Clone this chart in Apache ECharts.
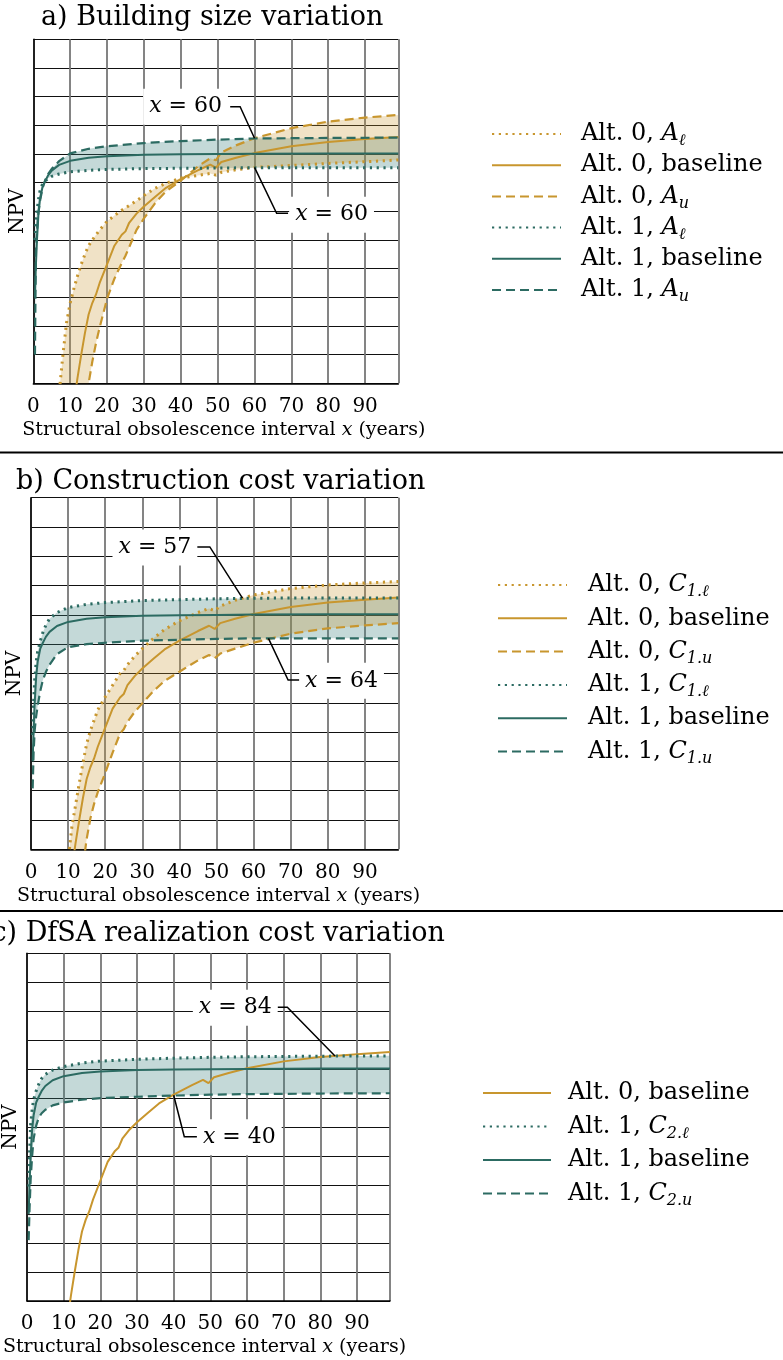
<!DOCTYPE html>
<html>
<head>
<meta charset="utf-8">
<title>NPV vs structural obsolescence interval</title>
<script src="https://cdn.jsdelivr.net/npm/echarts@6.0.0/dist/echarts.min.js"></script>
<style>
  html, body { margin: 0; padding: 0; background: #fff; }
  #main { width: 783px; height: 1360px; }
</style>
</head>
<body>
<div id="main"></div>
<script>
const FONT = 'DejaVu Serif'
const GOLD = '#C8962E'
const TEAL = '#2C6B62'
const GOLD_FILL = 'rgba(200,150,50,0.28)'
const TEAL_FILL = 'rgba(60,130,125,0.3)'

// x tick labels
const xTicks = [0, 10, 20, 30, 40, 50, 60, 70, 80, 90]

// Alt. 1 curves (teal), sampled at xT
const xT = [0.45, 0.7, 1, 1.4, 1.8, 2.5, 3.2, 4, 5, 7, 10, 15, 20, 30, 40, 50, 60, 80, 99]
const alt1Base = [3.0, 4.1, 5.0, 5.9, 6.4, 6.85, 7.05, 7.25, 7.42, 7.62, 7.76, 7.87, 7.92, 7.97, 7.99, 8.0, 8.01, 8.02, 8.02]
const a1Low = [5.0, 5.6, 6.0, 6.4, 6.7, 6.95, 7.05, 7.15, 7.22, 7.3, 7.38, 7.43, 7.46, 7.49, 7.5, 7.51, 7.52, 7.52, 7.52]
const a1Up = [1.0, 4.6, 5.3, 5.95, 6.35, 6.8, 7.08, 7.3, 7.48, 7.75, 8.02, 8.18, 8.27, 8.38, 8.45, 8.5, 8.54, 8.56, 8.57]
const b1Low = [3.9, 5.0, 5.8, 6.4, 6.75, 7.1, 7.4, 7.65, 7.87, 8.08, 8.25, 8.36, 8.42, 8.49, 8.52, 8.55, 8.57, 8.58, 8.58]
const b1Up = [2.08, 3.3, 4.07, 4.55, 4.9, 5.4, 5.78, 6.05, 6.3, 6.66, 6.9, 7.0, 7.05, 7.12, 7.15, 7.18, 7.2, 7.2, 7.2]
const c1Low = [3.95, 5.1, 6.1, 6.6, 6.95, 7.25, 7.48, 7.68, 7.82, 7.97, 8.09, 8.21, 8.28, 8.34, 8.38, 8.41, 8.43, 8.45, 8.46]
const c1Up = [2.1, 3.2, 4.2, 5.0, 5.6, 6.05, 6.33, 6.48, 6.6, 6.75, 6.85, 6.95, 7.0, 7.05, 7.09, 7.12, 7.14, 7.16, 7.17]

// Alt. 0 curves (gold), sampled at xG
const xG = [6, 7, 8, 9, 10, 11, 12, 13, 14, 15, 16, 17, 18, 20, 22, 24, 25, 26, 28, 30, 33, 36, 40, 45, 48, 49.5, 51, 55, 60, 70, 80, 90, 99]
const alt0Base = [-8, -6, -4.5, -3, -1.8, -0.7, 0.2, 1.0, 1.75, 2.4, 2.8, 3.1, 3.5, 4.15, 4.8, 5.18, 5.3, 5.6, 5.92, 6.17, 6.5, 6.82, 7.12, 7.45, 7.63, 7.52, 7.72, 7.87, 8.03, 8.27, 8.42, 8.52, 8.59]
const a0Low = [-1.2, -0.35, 0.95, 2.1, 2.8, 3.3, 3.75, 4.15, 4.5, 4.8, 5.0, 5.18, 5.35, 5.65, 5.85, 6.04, 6.12, 6.2, 6.37, 6.55, 6.8, 6.98, 7.16, 7.26, 7.32, 7.26, 7.36, 7.45, 7.53, 7.6, 7.67, 7.73, 7.79]
const a0Up = [-14, -12, -10, -8.3, -6.7, -5.2, -3.9, -2.6, -1.3, 0, 0.75, 1.4, 1.95, 2.95, 3.65, 4.2, 4.45, 4.75, 5.35, 5.75, 6.28, 6.7, 7.07, 7.6, 7.85, 7.78, 8.05, 8.3, 8.55, 8.9, 9.13, 9.27, 9.36]
const b0Low = [-6, -4.4, -3, -1.6, -0.4, 0.75, 1.5, 2.25, 2.95, 3.6, 4.05, 4.4, 4.76, 5.2, 5.6, 6.0, 6.1, 6.3, 6.6, 6.85, 7.2, 7.5, 7.8, 8.08, 8.22, 8.14, 8.3, 8.5, 8.68, 8.9, 9.02, 9.09, 9.14]
const b0Up = [-12, -10, -8.3, -6.7, -5.3, -4, -2.8, -1.7, -0.6, 0.35, 1.05, 1.55, 1.95, 2.6, 3.3, 3.95, 4.1, 4.35, 4.7, 4.98, 5.4, 5.75, 6.06, 6.45, 6.63, 6.52, 6.68, 6.85, 7.05, 7.36, 7.54, 7.64, 7.72]

// crossing annotations: target point, leader elbow, leader end x, label centre
const notesA = [
  {at: [60, 8.55], elbow: [56.1, 9.65], end: 53.4, pos: [41.3, 9.65], text: '60'},
  {at: [60, 7.53], elbow: [66.0, 5.93], end: 69.1, pos: [80.9, 5.88], text: '60'}
]
const notesB = [
  {at: [57, 8.57], elbow: [48.2, 10.32], end: 44.7, pos: [33.4, 10.3], text: '57'},
  {at: [64, 7.2], elbow: [69.3, 5.78], end: 72.5, pos: [83.7, 5.75], text: '64'}
]
const notesC = [
  {at: [84, 8.455], elbow: [71.0, 10.14], end: 68.3, pos: [56.8, 10.12], text: '84'},
  {at: [40, 7.1], elbow: [42.9, 5.67], end: 46.6, pos: [57.9, 5.65], text: '40'}
]

const LINE = {
  solid: {width: 2, type: 'solid'},
  dashed: {width: 2.2, type: [9, 5]},
  dotted: {width: 3, type: [2.2, 4.6]}
}

let labels = {}

function curve(id, label, idx, xs, ys, color, kind) {
  labels[id] = label
  return {
    id, name: id, type: 'line', xAxisIndex: idx, yAxisIndex: idx,
    data: xs.map((x, i) => [x, ys[i]]),
    symbol: 'none', showSymbol: false, clip: true, silent: true, z: 3,
    lineStyle: Object.assign({color}, LINE[kind]),
    itemStyle: {color}
  }
}

// filled band between two curves, drawn as one polygon
function band(idx, xs, lo, hi, fill) {
  return {
    type: 'custom', xAxisIndex: idx, yAxisIndex: idx, clip: true, silent: true, z: 1,
    data: xs.map((x, i) => [x, lo[i], hi[i]]),
    encode: {x: 0, y: [1, 2]},
    renderItem(params, api) {
      if (params.dataIndex !== 0) return
      let a = xs.map((x, i) => api.coord([x, lo[i]]))
      let b = xs.map((x, i) => api.coord([x, hi[i]])).reverse()
      return {type: 'polygon', shape: {points: a.concat(b)}, style: {fill}}
    }
  }
}

function notes(idx, list) {
  return {
    type: 'custom', xAxisIndex: idx, yAxisIndex: idx, silent: true, z: 10,
    data: list.map(n => n.at),
    renderItem(params, api) {
      let n = list[params.dataIndex]
      let p0 = api.coord(n.at), p1 = api.coord(n.elbow)
      let p2 = api.coord([n.end, n.elbow[1]]), p3 = api.coord(n.pos)
      return {type: 'group', children: [
        {type: 'polyline', shape: {points: [p0, p1, p2]}, style: {stroke: '#000', lineWidth: 1.5, fill: 'none'}},
        {type: 'text', x: p3[0], y: p3[1], z2: 5, style: {
          text: '{i|x} = ' + n.text,
          fontSize: 22, fontFamily: FONT, fill: '#000',
          rich: {i: {fontSize: 22, fontFamily: FONT, fontStyle: 'italic'}},
          align: 'center', verticalAlign: 'middle', textAlign: 'center', textVerticalAlign: 'middle',
          backgroundColor: '#fff', padding: [7, 6]
        }}
      ]}
    }
  }
}

function xAxis(idx, shift) {
  return {
    type: 'value', gridIndex: idx, min: 0, max: 99, interval: 10,
    name: 'Structural obsolescence interval {i|x} (years)',
    nameLocation: 'middle', nameGap: 37,
    nameTextStyle: {fontSize: 19, fontFamily: FONT, color: '#000', padding: shift > 0 ? [0, 0, 0, shift] : [0, -shift, 0, 0],
      rich: {i: {fontSize: 19, fontFamily: FONT, fontStyle: 'italic'}}},
    axisLine: {show: true, lineStyle: {color: '#000', width: 1.5}},
    axisTick: {show: false},
    axisLabel: {fontSize: 20, fontFamily: FONT, color: '#000', margin: 13, showMaxLabel: false,
      formatter: v => xTicks.includes(v) ? String(v) : ''},
    splitLine: {show: true, lineStyle: {color: '#777', width: 1.8}}
  }
}

function yAxis(idx) {
  return {
    type: 'value', gridIndex: idx, min: 0, max: 12, interval: 1,
    name: 'NPV', nameLocation: 'middle', nameGap: 6,
    nameTextStyle: {fontSize: 20, fontFamily: FONT, color: '#000'},
    axisLine: {show: true, lineStyle: {color: '#000', width: 1.5}},
    axisTick: {show: false},
    axisLabel: {show: false},
    splitLine: {show: true, lineStyle: {color: '#111', width: 1.2}}
  }
}

function legend(ids, left, top, width, gap, pad) {
  return {
    data: ids, orient: 'vertical', left, top, padding: 0,
    itemWidth: width, itemHeight: 14, itemGap: gap, selectedMode: false,
    itemStyle: {opacity: 0},
    formatter: name => labels[name],
    textStyle: {fontSize: 24, fontFamily: FONT, color: '#000', lineHeight: 30, padding: [0, 0, 0, pad],
      rich: {
        i: {fontSize: 24, fontFamily: FONT, fontStyle: 'italic', color: '#000'},
        s: {fontSize: 16, fontFamily: FONT, fontStyle: 'italic', color: '#000', verticalAlign: 'bottom'}
      }}
  }
}

let series = [
  // a) building size
  band(0, xT, a1Low, a1Up, TEAL_FILL),
  band(0, xG, a0Low, a0Up, GOLD_FILL),
  curve('a0l', 'Alt. 0, {i|A}{s|ℓ}', 0, xG, a0Low, GOLD, 'dotted'),
  curve('a0b', 'Alt. 0, baseline', 0, xG, alt0Base, GOLD, 'solid'),
  curve('a0u', 'Alt. 0, {i|A}{s|u}', 0, xG, a0Up, GOLD, 'dashed'),
  curve('a1l', 'Alt. 1, {i|A}{s|ℓ}', 0, xT, a1Low, TEAL, 'dotted'),
  curve('a1b', 'Alt. 1, baseline', 0, xT, alt1Base, TEAL, 'solid'),
  curve('a1u', 'Alt. 1, {i|A}{s|u}', 0, xT, a1Up, TEAL, 'dashed'),
  notes(0, notesA),
  // b) construction cost
  band(1, xT, b1Low, b1Up, TEAL_FILL),
  band(1, xG, b0Low, b0Up, GOLD_FILL),
  curve('b0l', 'Alt. 0, {i|C}{s|1.ℓ}', 1, xG, b0Low, GOLD, 'dotted'),
  curve('b0b', 'Alt. 0, baseline', 1, xG, alt0Base, GOLD, 'solid'),
  curve('b0u', 'Alt. 0, {i|C}{s|1.u}', 1, xG, b0Up, GOLD, 'dashed'),
  curve('b1l', 'Alt. 1, {i|C}{s|1.ℓ}', 1, xT, b1Low, TEAL, 'dotted'),
  curve('b1b', 'Alt. 1, baseline', 1, xT, alt1Base, TEAL, 'solid'),
  curve('b1u', 'Alt. 1, {i|C}{s|1.u}', 1, xT, b1Up, TEAL, 'dashed'),
  notes(1, notesB),
  // c) DfSA realization cost
  band(2, xT, c1Low, c1Up, TEAL_FILL),
  curve('c0b', 'Alt. 0, baseline', 2, xG, alt0Base, GOLD, 'solid'),
  curve('c1l', 'Alt. 1, {i|C}{s|2.ℓ}', 2, xT, c1Low, TEAL, 'dotted'),
  curve('c1b', 'Alt. 1, baseline', 2, xT, alt1Base, TEAL, 'solid'),
  curve('c1u', 'Alt. 1, {i|C}{s|2.u}', 2, xT, c1Up, TEAL, 'dashed'),
  notes(2, notesC)
]

function title(text, x, y, align) {
  return {type: 'text', x, y, z: 20, style: {
    text, font: '27px "DejaVu Serif"', fill: '#000',
    align, textAlign: align, verticalAlign: 'middle', textVerticalAlign: 'middle'
  }}
}

let option = {
  animation: false,
  backgroundColor: '#fff',
  textStyle: {fontFamily: FONT},
  grid: [
    {left: 33.3, top: 39.3, width: 365, height: 344},
    {left: 31, top: 497.7, width: 367.3, height: 351.6},
    {left: 25, top: 953.3, width: 365, height: 347.7}
  ],
  xAxis: [xAxis(0, 16), xAxis(1, 8), xAxis(2, -8)],
  yAxis: [yAxis(0), yAxis(1), yAxis(2)],
  legend: [
    legend(['a0l', 'a0b', 'a0u', 'a1l', 'a1b', 'a1u'], 491, 119, 69, 1.2, 15),
    legend(['b0l', 'b0b', 'b0u', 'b1l', 'b1b', 'b1u'], 497, 570, 69, 3.3, 16),
    legend(['c0b', 'c1l', 'c1b', 'c1u'], 482, 1078, 68, 3.5, 12)
  ],
  graphic: [
    {type: 'rect', shape: {x: 0, y: 451.5, width: 783, height: 2}, style: {fill: '#000'}},
    {type: 'rect', shape: {x: 0, y: 910, width: 783, height: 2}, style: {fill: '#000'}},
    title('a) Building size variation', 41, 18, 'left'),
    title('b) Construction cost variation', 16, 482, 'left'),
    title('c) DfSA realization cost variation', 445, 934, 'right')
  ],
  series
}

let chart = echarts.init(document.getElementById('main'))
chart.setOption(option)
</script>
</body>
</html>
